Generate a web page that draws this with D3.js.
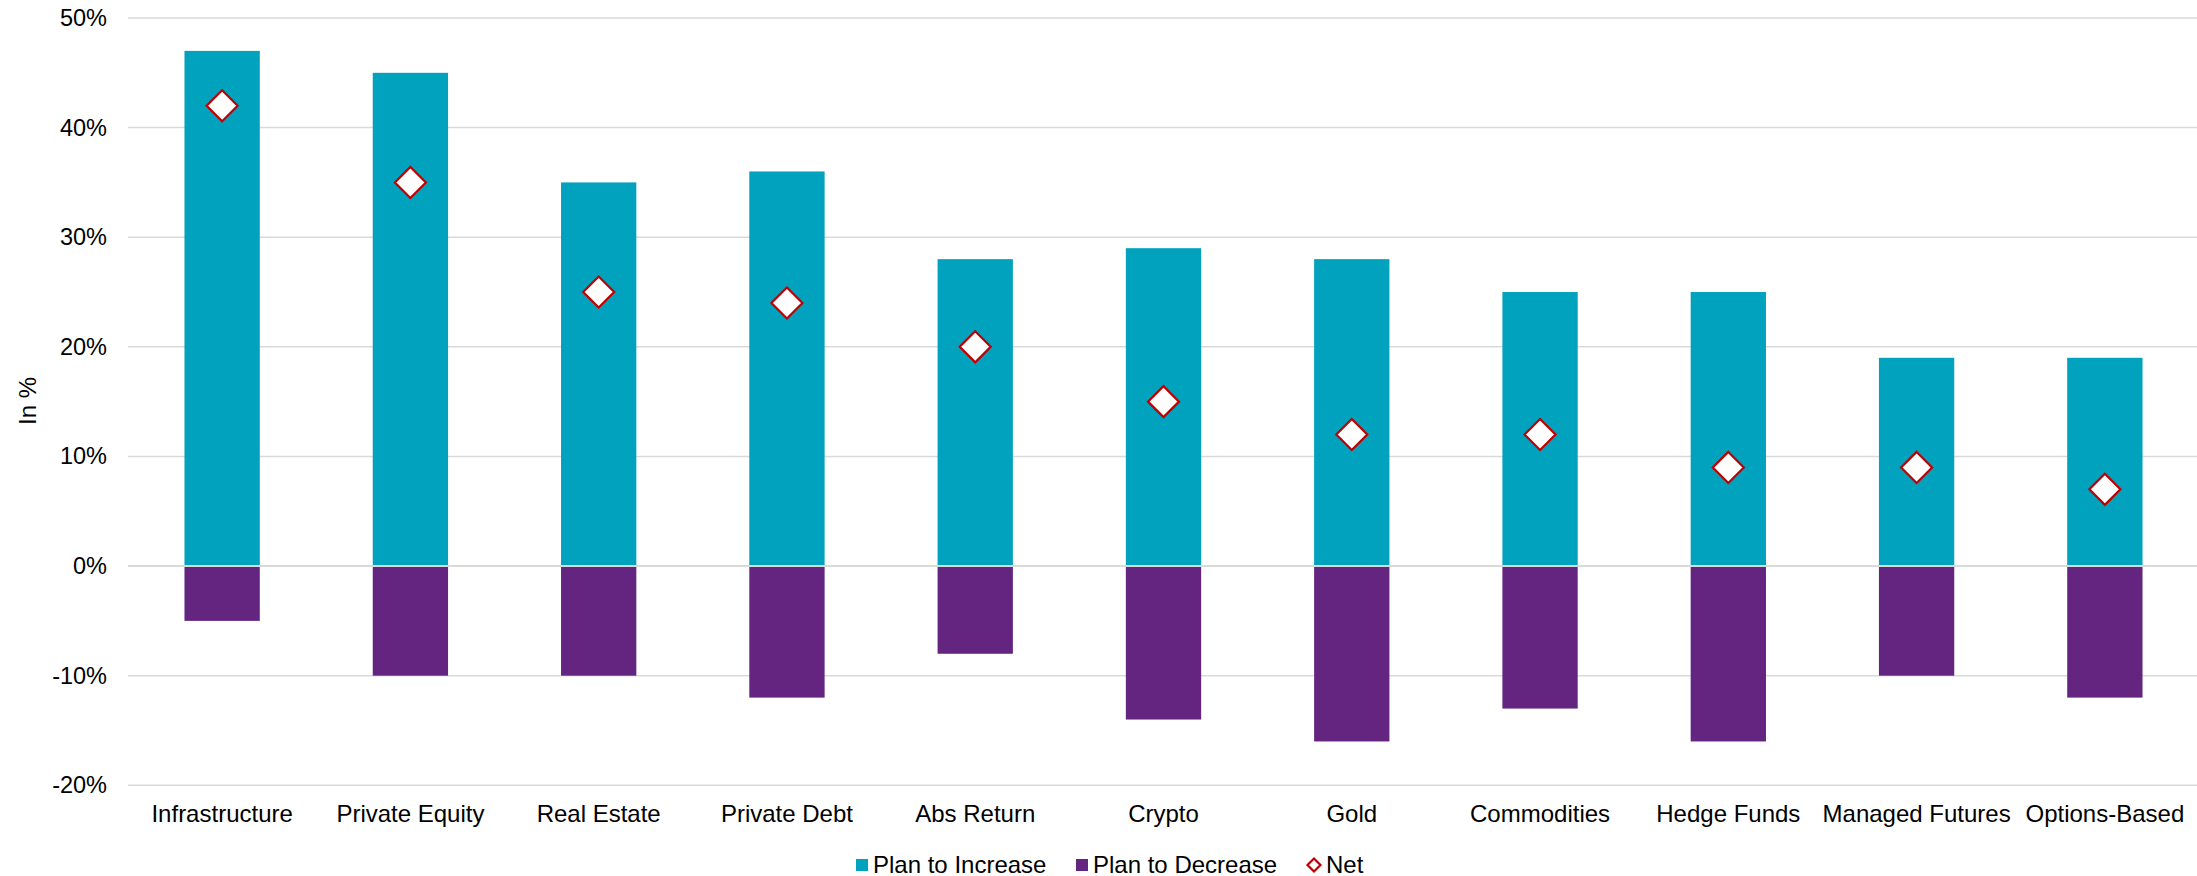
<!DOCTYPE html>
<html>
<head>
<meta charset="utf-8">
<script src="https://cdn.jsdelivr.net/npm/d3@7/dist/d3.min.js"></script>
<style>
  html, body { margin: 0; padding: 0; background: #fff; }
  svg { display: block; font-family: "Liberation Sans", Arial, sans-serif; }
</style>
</head>
<body>
<svg id="chart" width="2197" height="876"></svg>
<script>
const categories = ["Infrastructure", "Private Equity", "Real Estate", "Private Debt", "Abs Return", "Crypto", "Gold", "Commodities", "Hedge Funds", "Managed Futures", "Options-Based"];
const planIncrease = [47, 45, 35, 36, 28, 29, 28, 25, 25, 19, 19];
const planDecrease = [-5, -10, -10, -12, -8, -14, -16, -13, -16, -10, -12];
const net = [42, 35, 25, 24, 20, 15, 12, 12, 9, 9, 7];
const yTicks = [-20, -10, 0, 10, 20, 30, 40, 50];
const seriesNames = ["Plan to Increase", "Plan to Decrease", "Net"];
const yTitle = "In %";

const colors = { inc: "#00A2BD", dec: "#63257F", net: "#C00000", grid: "#D9D9D9", text: "#000" };

const svg = d3.select("#chart");
const W = 2197, H = 876;
const plot = { left: 128, right: 2199, top: 18, bottom: 785.3 };

const x = d3.scaleBand().domain(categories).range([plot.left, plot.right]).paddingInner(0.6).paddingOuter(0.3);
const y = d3.scaleLinear().domain([-20, 50]).range([plot.bottom, plot.top]);

// gridlines
const grid = svg.append("g");
grid.selectAll("line").data(yTicks).join("line")
  .attr("x1", plot.left).attr("x2", plot.right)
  .attr("y1", d => y(d)).attr("y2", d => y(d))
  .attr("stroke", colors.grid).attr("stroke-width", 1.5);

// y axis labels
const yAxis = d3.axisLeft(y).tickValues(yTicks).tickFormat(d => d + "%").tickSize(0).tickPadding(0);
const gy = svg.append("g").attr("transform", `translate(107,0)`).call(yAxis);
gy.select(".domain").remove();
gy.selectAll("text").attr("font-size", 23.5).attr("fill", colors.text)
  .attr("font-family", "Liberation Sans, Arial, sans-serif");

// bars
const rows = categories.map((c, i) => ({ c, inc: planIncrease[i], dec: planDecrease[i], net: net[i] }));
svg.append("g").selectAll("rect").data(rows).join("rect")
  .attr("x", d => x(d.c)).attr("width", x.bandwidth())
  .attr("y", d => y(d.inc)).attr("height", d => y(0) - y(d.inc))
  .attr("fill", colors.inc);
svg.append("g").selectAll("rect").data(rows).join("rect")
  .attr("x", d => x(d.c)).attr("width", x.bandwidth())
  .attr("y", y(0)).attr("height", d => y(d.dec) - y(0))
  .attr("fill", colors.dec);

// zero line over bars
svg.append("line").attr("x1", plot.left).attr("x2", plot.right)
  .attr("y1", y(0)).attr("y2", y(0)).attr("stroke", colors.grid).attr("stroke-width", 2);

// net diamonds
const dsize = 15.5;
const diamond = s => `M0,${-s}L${s},0L0,${s}L${-s},0Z`;
svg.append("g").selectAll("path").data(rows).join("path")
  .attr("transform", d => `translate(${x(d.c) + x.bandwidth() / 2},${y(d.net)})`)
  .attr("d", diamond(dsize))
  .attr("fill", "#fff").attr("stroke", colors.net).attr("stroke-width", 2.2);

// x labels
const xAxis = d3.axisBottom(x).tickSize(0).tickPadding(0);
const gx = svg.append("g").attr("transform", `translate(0,822)`).call(xAxis);
gx.select(".domain").remove();
gx.selectAll("text").attr("font-size", 24).attr("fill", colors.text).attr("dy", 0)
  .attr("font-family", "Liberation Sans, Arial, sans-serif");

// y title
svg.append("text").attr("transform", `translate(36,401) rotate(-90)`)
  .attr("text-anchor", "middle").attr("font-size", 24).attr("fill", colors.text).text(yTitle);

// legend
const legendY = 865;
const legendItems = [
  { name: seriesNames[0], type: "rect", color: colors.inc, x: 856 },
  { name: seriesNames[1], type: "rect", color: colors.dec, x: 1076 },
  { name: seriesNames[2], type: "diamond", color: colors.net, x: 1307 }
];
const lg = svg.append("g").selectAll("g").data(legendItems).join("g")
  .attr("transform", d => `translate(${d.x},${legendY})`);
lg.filter(d => d.type === "rect").append("rect")
  .attr("x", 0).attr("y", -6).attr("width", 12).attr("height", 12).attr("fill", d => d.color);
lg.filter(d => d.type === "diamond").append("path")
  .attr("transform", "translate(7,0)").attr("d", diamond(6.5))
  .attr("fill", "#fff").attr("stroke", d => d.color).attr("stroke-width", 2.2);
lg.append("text").attr("x", d => d.type === "rect" ? 17 : 19).attr("y", 0).attr("dy", "0.35em")
  .attr("font-size", 24).attr("fill", colors.text).text(d => d.name);
</script>
</body>
</html>
